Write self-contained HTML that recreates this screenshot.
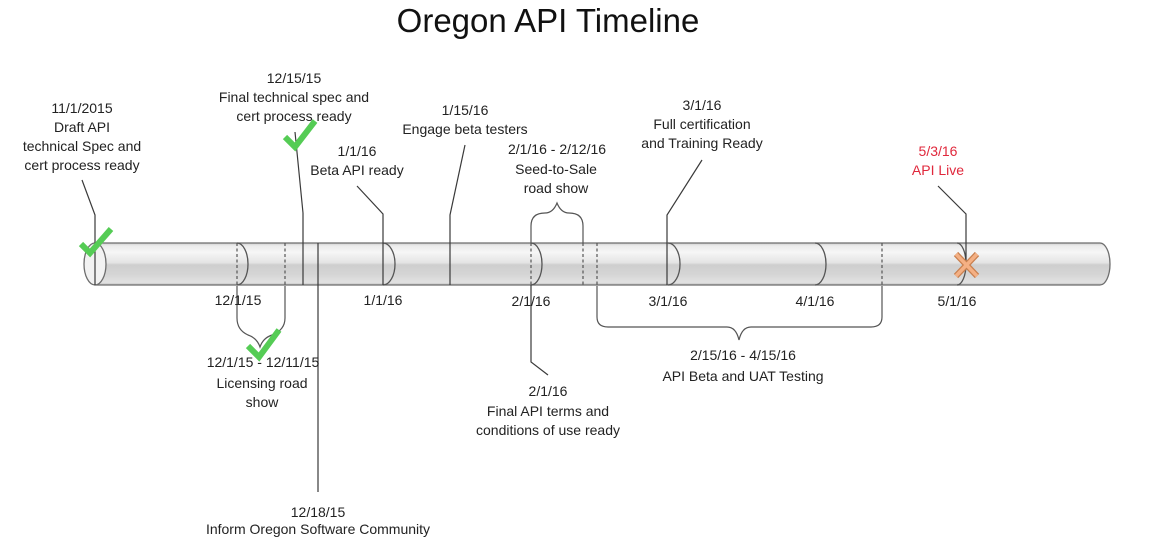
<!DOCTYPE html>
<html>
<head>
<meta charset="utf-8">
<style>
  html, body { margin:0; padding:0; background:#ffffff; }
  body { width:1150px; height:550px; overflow:hidden; }
  svg { display:block; }
  text { font-family:"Liberation Sans", sans-serif; font-size:14px; fill:#222; }
</style>
</head>
<body>
<svg width="1150" height="550" viewBox="0 0 1150 550" xmlns="http://www.w3.org/2000/svg">
  <defs>
    <linearGradient id="tube" x1="0" y1="0" x2="0" y2="1">
      <stop offset="0" stop-color="#cfcfcf"/>
      <stop offset="0.07" stop-color="#ececec"/>
      <stop offset="0.22" stop-color="#f6f6f6"/>
      <stop offset="0.47" stop-color="#e4e4e4"/>
      <stop offset="0.52" stop-color="#cecece"/>
      <stop offset="0.75" stop-color="#d5d5d5"/>
      <stop offset="0.94" stop-color="#e2e2e2"/>
      <stop offset="1" stop-color="#bcbcbc"/>
    </linearGradient>
  </defs>

  <!-- Title -->
  <text x="548" y="32" text-anchor="middle" style="font-size:33px;fill:#111">Oregon API Timeline</text>

  <!-- Tube -->
  <path d="M95,243 H1100 A10,21 0 0 1 1100,285 H95 Z" fill="url(#tube)" stroke="#6e6e6e" stroke-width="1.3"/>
  <ellipse cx="95" cy="264" rx="11" ry="21" fill="#f2f2f2" stroke="#6e6e6e" stroke-width="1.3"/>

  <!-- Month arcs -->
  <g fill="none" stroke="#555" stroke-width="1.3">
    <path d="M237,243 A11,21 0 0 1 237,285"/>
    <path d="M383,243 A12,21 0 0 1 383,285"/>
    <path d="M531,243 A11,21 0 0 1 531,285"/>
    <path d="M668,243 A12,21 0 0 1 668,285"/>
    <path d="M815,243 A11,21 0 0 1 815,285"/>
    <path d="M957,243 A9,21 0 0 1 957,285"/>
  </g>

  <!-- Dashed lines in tube -->
  <g stroke="#555" stroke-width="1.2" stroke-dasharray="3,2.5">
    <line x1="237" y1="243" x2="237" y2="285"/>
    <line x1="285" y1="243" x2="285" y2="285"/>
    <line x1="531" y1="243" x2="531" y2="285"/>
    <line x1="583" y1="243" x2="583" y2="285"/>
    <line x1="597" y1="243" x2="597" y2="285"/>
    <line x1="882" y1="243" x2="882" y2="285"/>
  </g>

  <!-- Solid connector lines -->
  <g fill="none" stroke="#3a3a3a" stroke-width="1.2">
    <polyline points="82,180 95,215 95,285"/>
    <polyline points="295,132 303,213 303,285"/>
    <line x1="318" y1="243" x2="318" y2="492"/>
    <polyline points="357,186 383,214 383,285"/>
    <polyline points="465,145 450,215 450,285"/>
    <polyline points="702,160 667,215 667,285"/>
    <polyline points="938,186 966,214 966,262"/>
    <polyline points="531,285 531,362 548,375"/>
  </g>

  <!-- Braces -->
  <g fill="none" stroke="#555" stroke-width="1.2">
    <!-- Seed-to-Sale (up) -->
    <path d="M531,243 L531,226 Q531,213 545,213 Q553,213 557,203 Q561,213 569,213 Q583,213 583,226 L583,243"/>
    <!-- Licensing (down) -->
    <path d="M237,286 L237,318 Q237,330 248,335 Q257,338 260,347 Q263,338 272,335 Q285,330 285,318 L285,286"/>
    <!-- Beta/UAT (down) -->
    <path d="M597,286 L597,317 Q597,327 608,327 L727,327 Q736,327 739,340 Q742,327 751,327 L871,327 Q882,327 882,317 L882,286"/>
  </g>

  <!-- Check marks -->
  <g fill="none" stroke="#55cc55" stroke-width="6" stroke-linejoin="miter" stroke-linecap="butt">
    <polyline points="81,244 90,253 111,229"/>
    <polyline points="285,137 295,147 315,121"/>
    <polyline points="248,346 259,357 279,330"/>
  </g>

  <!-- X mark -->
  <g stroke-linecap="butt">
    <g stroke="#c9804f" stroke-width="6">
      <line x1="956" y1="254" x2="977" y2="276"/>
      <line x1="977" y1="254" x2="956" y2="276"/>
    </g>
    <g stroke="#f4b084" stroke-width="3.5">
      <line x1="956" y1="254" x2="977" y2="276"/>
      <line x1="977" y1="254" x2="956" y2="276"/>
    </g>
  </g>

  <!-- Top labels -->
  <g text-anchor="middle">
    <text x="82" y="113">11/1/2015</text>
    <text x="82" y="132">Draft API</text>
    <text x="82" y="151">technical Spec and</text>
    <text x="82" y="170">cert process ready</text>

    <text x="294" y="83">12/15/15</text>
    <text x="294" y="102">Final technical spec and</text>
    <text x="294" y="121">cert process ready</text>

    <text x="357" y="156">1/1/16</text>
    <text x="357" y="175">Beta API ready</text>

    <text x="465" y="115">1/15/16</text>
    <text x="465" y="134">Engage beta testers</text>

    <text x="557" y="154">2/1/16 - 2/12/16</text>
    <text x="556" y="174">Seed-to-Sale</text>
    <text x="556" y="193">road show</text>

    <text x="702" y="110">3/1/16</text>
    <text x="702" y="129">Full certification</text>
    <text x="702" y="148">and Training Ready</text>

    <text x="938" y="156" style="fill:#e0283c">5/3/16</text>
    <text x="938" y="175" style="fill:#e0283c">API Live</text>
  </g>

  <!-- Axis labels -->
  <g text-anchor="middle">
    <text x="238" y="305">12/1/15</text>
    <text x="383" y="305">1/1/16</text>
    <text x="531" y="306">2/1/16</text>
    <text x="668" y="306">3/1/16</text>
    <text x="815" y="306">4/1/16</text>
    <text x="957" y="306">5/1/16</text>
  </g>

  <!-- Bottom labels -->
  <g text-anchor="middle">
    <text x="263" y="367">12/1/15 - 12/11/15</text>
    <text x="262" y="388">Licensing road</text>
    <text x="262" y="407">show</text>

    <text x="548" y="396">2/1/16</text>
    <text x="548" y="416">Final API terms and</text>
    <text x="548" y="435">conditions of use ready</text>

    <text x="743" y="360">2/15/16 - 4/15/16</text>
    <text x="743" y="381">API Beta and UAT Testing</text>

    <text x="318" y="517">12/18/15</text>
    <text x="318" y="534">Inform Oregon Software Community</text>
  </g>
</svg>
</body>
</html>
